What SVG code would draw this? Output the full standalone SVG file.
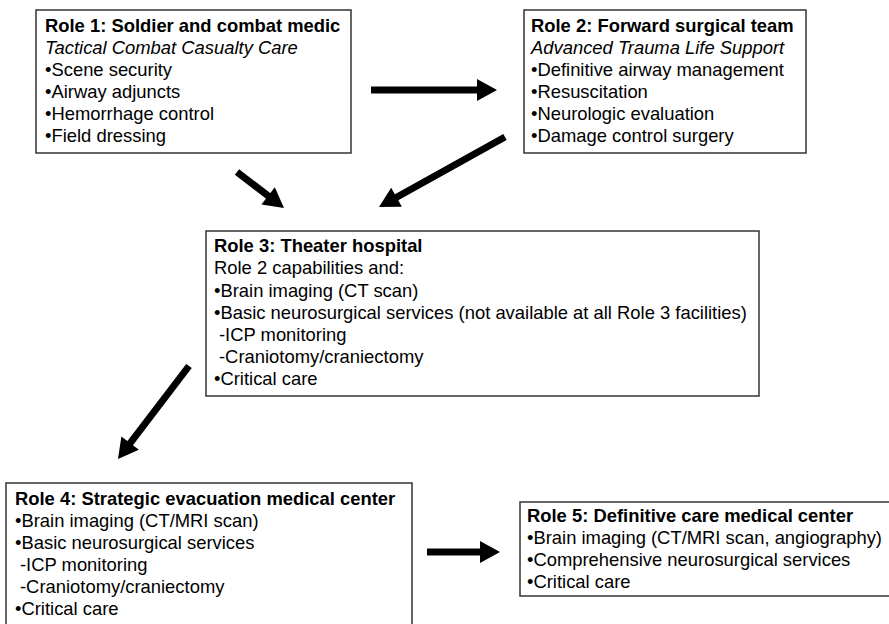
<svg xmlns="http://www.w3.org/2000/svg" width="889" height="624" viewBox="0 0 889 624">
<style>
.box{fill:#fff;stroke:#333;stroke-width:1.5}
text{font-family:"Liberation Sans",Arial,sans-serif;font-size:18.4px;fill:#000}
.t{font-weight:bold}
.i{font-style:italic}
.arr{stroke:#000;stroke-width:7;fill:none;marker-end:url(#ah)}
</style>
<defs>
<marker id="ah" markerUnits="userSpaceOnUse" markerWidth="22" markerHeight="24" refX="4" refY="11" orient="auto" overflow="visible">
<path d="M0,0 L20,11 L0,22 z" fill="#000"/>
</marker>
</defs>
<rect width="889" height="624" fill="#fff"/>
<g id="role1">
<rect class="box" x="36" y="10" width="315" height="143"/>
<text class="t" x="45" y="32">Role 1: Soldier and combat medic</text>
<text class="i" x="45" y="54">Tactical Combat Casualty Care</text>
<text x="45" y="76">•Scene security</text>
<text x="45" y="98">•Airway adjuncts</text>
<text x="45" y="120">•Hemorrhage control</text>
<text x="45" y="142">•Field dressing</text>
</g>
<g id="role2">
<rect class="box" x="524" y="10" width="282" height="143"/>
<text class="t" x="531" y="32">Role 2: Forward surgical team</text>
<text class="i" x="531" y="54">Advanced Trauma Life Support</text>
<text x="531" y="76">•Definitive airway management</text>
<text x="531" y="98">•Resuscitation</text>
<text x="531" y="120">•Neurologic evaluation</text>
<text x="531" y="142">•Damage control surgery</text>
</g>
<g id="role3">
<rect class="box" x="206" y="231" width="553" height="165"/>
<text class="t" x="214" y="252">Role 3: Theater hospital</text>
<text x="214" y="274">Role 2 capabilities and:</text>
<text x="214" y="297">•Brain imaging (CT scan)</text>
<text x="214" y="319">•Basic neurosurgical services (not available at all Role 3 facilities)</text>
<text x="219" y="341">-ICP monitoring</text>
<text x="219" y="363">-Craniotomy/craniectomy</text>
<text x="214" y="385">•Critical care</text>
</g>
<g id="role4">
<rect class="box" x="6" y="483" width="406" height="143"/>
<text class="t" x="15" y="505">Role 4: Strategic evacuation medical center</text>
<text x="15" y="527">•Brain imaging (CT/MRI scan)</text>
<text x="15" y="549">•Basic neurosurgical services</text>
<text x="20" y="571">-ICP monitoring</text>
<text x="20" y="593">-Craniotomy/craniectomy</text>
<text x="15" y="615">•Critical care</text>
</g>
<g id="role5">
<rect class="box" x="520" y="502" width="372" height="94"/>
<text class="t" x="527" y="522">Role 5: Definitive care medical center</text>
<text x="527" y="544">•Brain imaging (CT/MRI scan, angiography)</text>
<text x="527" y="566">•Comprehensive neurosurgical services</text>
<text x="527" y="588">•Critical care</text>
</g>
<g id="connectors">
<line class="arr" x1="371" y1="90" x2="481" y2="90"/>
<line class="arr" x1="237" y1="172" x2="271.3" y2="198.3"/>
<line class="arr" x1="505" y1="137" x2="393" y2="199.2"/>
<line class="arr" x1="189" y1="366" x2="127.7" y2="446.3"/>
<line class="arr" x1="427" y1="552" x2="484" y2="552"/>
</g>
</svg>
